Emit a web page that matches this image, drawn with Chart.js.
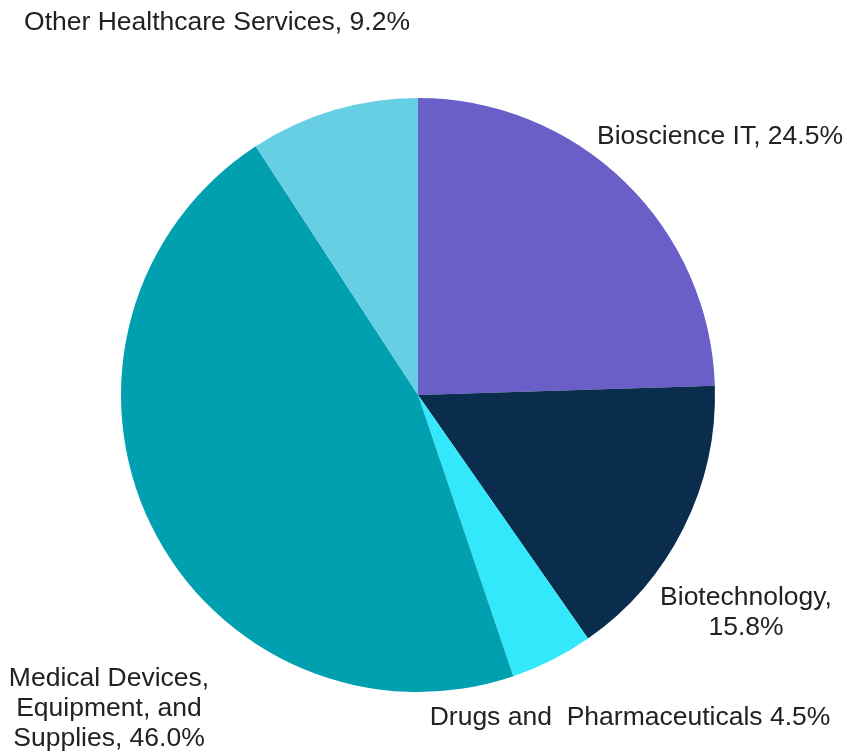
<!DOCTYPE html>
<html>
<head>
<meta charset="utf-8">
<script src="https://cdn.jsdelivr.net/npm/chart.js@4.4.1/dist/chart.umd.min.js"></script>
<style>
    html, body { margin: 0; padding: 0; background: #fff; }
    #wrap { width: 847px; height: 752px; }
</style>
</head>
<body>
<div id="wrap"><canvas id="chartSetores"></canvas></div>
<script>
// Sectors, clockwise from 12 o'clock
const setores = ['Bioscience IT', 'Biotechnology', 'Drugs and Pharmaceuticals', 'Medical Devices, Equipment, and Supplies', 'Other Healthcare Services'];
const percentuais = [24.5, 15.8, 4.5, 46.0, 9.2];
const rotulos = [
    ['Bioscience IT, 24.5%'],
    ['Biotechnology,', '15.8%'],
    ['Drugs and  Pharmaceuticals 4.5%'],
    ['Medical Devices,', 'Equipment, and', 'Supplies, 46.0%'],
    ['Other Healthcare Services, 9.2%']
];

const CORES = ['#6a5fc8', '#0a2d4d', '#33e8fb', '#00a0b0', '#66cfe3'];

// where each label block sits (centre x, first-line middle y)
const posRotulos = [
    { x: 720, y: 137 },
    { x: 746, y: 598 },
    { x: 630, y: 718 },
    { x: 109, y: 679 },
    { x: 217, y: 23 }
];

const rotulosPlugin = {
    id: 'rotulos',
    afterDatasetsDraw(chart) {
        const ctx = chart.ctx;
        ctx.save();
        ctx.font = '26.5px "Liberation Sans", Arial, sans-serif';
        ctx.fillStyle = '#222';
        ctx.textAlign = 'center';
        ctx.textBaseline = 'middle';
        chart.getDatasetMeta(0).data.forEach((arc, i) => {
            const p = posRotulos[i];
            rotulos[i].forEach((linha, j) => ctx.fillText(linha, p.x, p.y + j * 30));
        });
        ctx.restore();
    }
};

new Chart(document.getElementById('chartSetores').getContext('2d'), {
    type: 'pie',
    data: {
        labels: setores,
        datasets: [{
            data: percentuais,
            backgroundColor: CORES,
            borderWidth: 0
        }]
    },
    options: {
        responsive: true,
        maintainAspectRatio: false,
        animation: false,
        layout: { padding: { left: 121, right: 132, top: 98, bottom: 60 } },
        plugins: {
            legend: { display: false },
            tooltip: { enabled: false }
        }
    },
    plugins: [rotulosPlugin]
});
</script>
</body>
</html>
